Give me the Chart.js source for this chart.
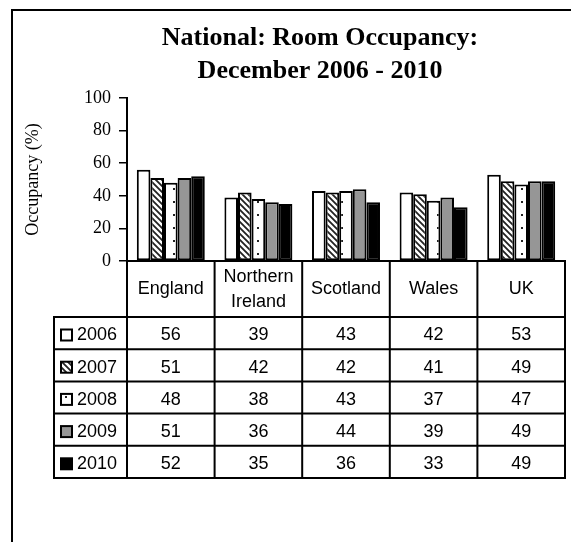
<!DOCTYPE html>
<html>
<head>
<meta charset="utf-8">
<script src="https://cdn.jsdelivr.net/npm/chart.js@4"></script>
<style>
  html, body { margin: 0; padding: 0; overflow: hidden; background: #fff; }
  #wrap { width: 628px; height: 542px; }
</style>
</head>
<body>
<div id="wrap"><canvas id="chart" width="628" height="542"></canvas></div>
<script>
// Data
const categories = ['England', ['Northern', 'Ireland'], 'Scotland', 'Wales', 'UK'];
const years = ['2006', '2007', '2008', '2009', '2010'];
const values2006 = [56, 39, 43, 42, 53];
const values2007 = [51, 42, 42, 41, 49];
const values2008 = [48, 38, 43, 37, 47];
const values2009 = [51, 36, 44, 39, 49];
const values2010 = [52, 35, 36, 33, 49];
const yTicks = [0, 20, 40, 60, 80, 100];

const serif = '"Liberation Serif", "Times New Roman", serif';
const sans = '"Liberation Sans", Arial, sans-serif';

// Fill patterns like the old Excel ones
function makeStripes() {
  const c = document.createElement('canvas');
  c.width = 6; c.height = 6;
  const g = c.getContext('2d');
  g.fillStyle = '#fff';
  g.fillRect(0, 0, 6, 6);
  g.strokeStyle = '#222';
  g.lineWidth = 1.8;
  g.beginPath();
  g.moveTo(-1, -1); g.lineTo(7, 7);
  g.moveTo(-7, -1); g.lineTo(1, 7);
  g.moveTo(5, -1); g.lineTo(13, 7);
  g.stroke();
  return g.createPattern(c, 'repeat');
}

function makeDots() {
  const c = document.createElement('canvas');
  c.width = 12; c.height = 13;
  const g = c.getContext('2d');
  g.fillStyle = '#fff';
  g.fillRect(0, 0, 12, 13);
  g.fillStyle = '#222';
  g.fillRect(5, 6, 2, 2);
  return g.createPattern(c, 'repeat');
}

const ctx = document.getElementById('chart').getContext('2d');
const fills = ['#ffffff', makeStripes(), makeDots(), '#969696', '#000000'];
const series = [values2006, values2007, values2008, values2009, values2010];

// Box around the whole chart (its right and bottom sides are cropped off)
const frame = {
  id: 'frame',
  beforeDraw(chart) {
    const c = chart.ctx;
    c.save();
    c.fillStyle = '#fff';
    c.fillRect(0, 0, chart.width, chart.height);
    c.strokeStyle = '#000';
    c.lineWidth = 2;
    c.strokeRect(12, 10, 800, 800);
    c.restore();
  }
};

// Data table under the plot, columns taken from the x scale
const dataTable = {
  id: 'dataTable',
  afterDraw(chart) {
    const c = chart.ctx;
    const xs = chart.scales.x;
    const area = chart.chartArea;
    const n = categories.length;
    const colW = (area.right - area.left) / n;
    const top = area.bottom;
    const headH = 56;
    const rowH = 32.2;
    const legendLeft = 54;
    const rowsTop = top + headH;
    const bottom = rowsTop + rowH * years.length;

    c.save();
    c.strokeStyle = '#000';
    c.lineWidth = 2;
    c.beginPath();
    c.moveTo(area.left - 1, top); c.lineTo(area.right + 1, top);
    for (let r = 0; r <= years.length; r++) {
      const y = rowsTop + r * rowH;
      c.moveTo(legendLeft - 1, y); c.lineTo(area.right + 1, y);
    }
    for (let i = 0; i <= n; i++) {
      const x = area.left + i * colW;
      c.moveTo(x, top); c.lineTo(x, bottom + 1);
    }
    c.moveTo(legendLeft, rowsTop - 1); c.lineTo(legendLeft, bottom + 1);
    c.stroke();

    c.fillStyle = '#000';
    c.font = '18px ' + sans;
    c.textAlign = 'center';
    c.textBaseline = 'middle';
    categories.forEach((cat, i) => {
      const cx = xs.getPixelForValue(i);
      const lines = Array.isArray(cat) ? cat : [cat];
      const lh = 24.5;
      const y0 = top + headH / 2 + 0.5 - (lines.length - 1) * lh / 2;
      lines.forEach((t, k) => c.fillText(t, cx, y0 + k * lh));
    });

    years.forEach((yr, r) => {
      const cy = rowsTop + r * rowH + 18.5;
      c.fillStyle = fills[r];
      c.fillRect(61, cy - 6, 11, 11);
      c.strokeStyle = '#000';
      c.lineWidth = 2;
      c.strokeRect(61, cy - 6, 11, 11);
      c.fillStyle = '#000';
      c.textAlign = 'left';
      c.fillText(yr, 77, cy);
      c.textAlign = 'center';
      series[r].forEach((v, i) => {
        c.fillText(String(v), xs.getPixelForValue(i), cy);
      });
    });
    c.restore();
  }
};

new Chart(ctx, {
  type: 'bar',
  data: {
    labels: categories,
    datasets: years.map((yr, r) => ({
      label: yr,
      data: series[r],
      backgroundColor: fills[r],
      borderColor: '#000',
      borderWidth: 2,
      borderSkipped: false,
      categoryPercentage: 0.776,
      barPercentage: 1.0,
    })),
  },
  options: {
    responsive: false,
    animation: false,
    layout: { padding: { left: 12, right: 0, top: 0, bottom: 281 } },
    plugins: {
      legend: { display: false },
      tooltip: { enabled: false },
      title: {
        display: true,
        text: ['National: Room Occupancy:', 'December 2006 - 2010'],
        color: '#000',
        font: { family: serif, size: 26, weight: 'bold', lineHeight: 1.27 },
        padding: { top: 22, bottom: 10 },
      },
    },
    scales: {
      x: { display: false },
      y: {
        min: 0,
        max: 100,
        afterBuildTicks(scale) {
          scale.ticks = yTicks.map((v) => ({ value: v }));
        },
        afterFit(scale) {
          scale.width = 115;
        },
        ticks: {
          padding: 8,
          color: '#000',
          font: { family: serif, size: 18 },
        },
        grid: {
          drawOnChartArea: false,
          drawTicks: true,
          tickLength: 8,
          color: '#000',
          lineWidth: 1.5,
        },
        border: { display: true, color: '#000', width: 2 },
        title: {
          display: true,
          text: 'Occupancy (%)',
          color: '#000',
          font: { family: serif, size: 18 },
          padding: { top: 10, bottom: 0 },
        },
      },
      // empty right-hand axis that only reserves the space to the right of the plot
      spacer: {
        position: 'right',
        min: 0,
        max: 100,
        ticks: { display: false },
        grid: { display: false, drawTicks: false },
        border: { display: false },
        afterFit(scale) {
          scale.width = 63;
        },
      },
    },
  },
  plugins: [frame, dataTable],
});
</script>
</body>
</html>
